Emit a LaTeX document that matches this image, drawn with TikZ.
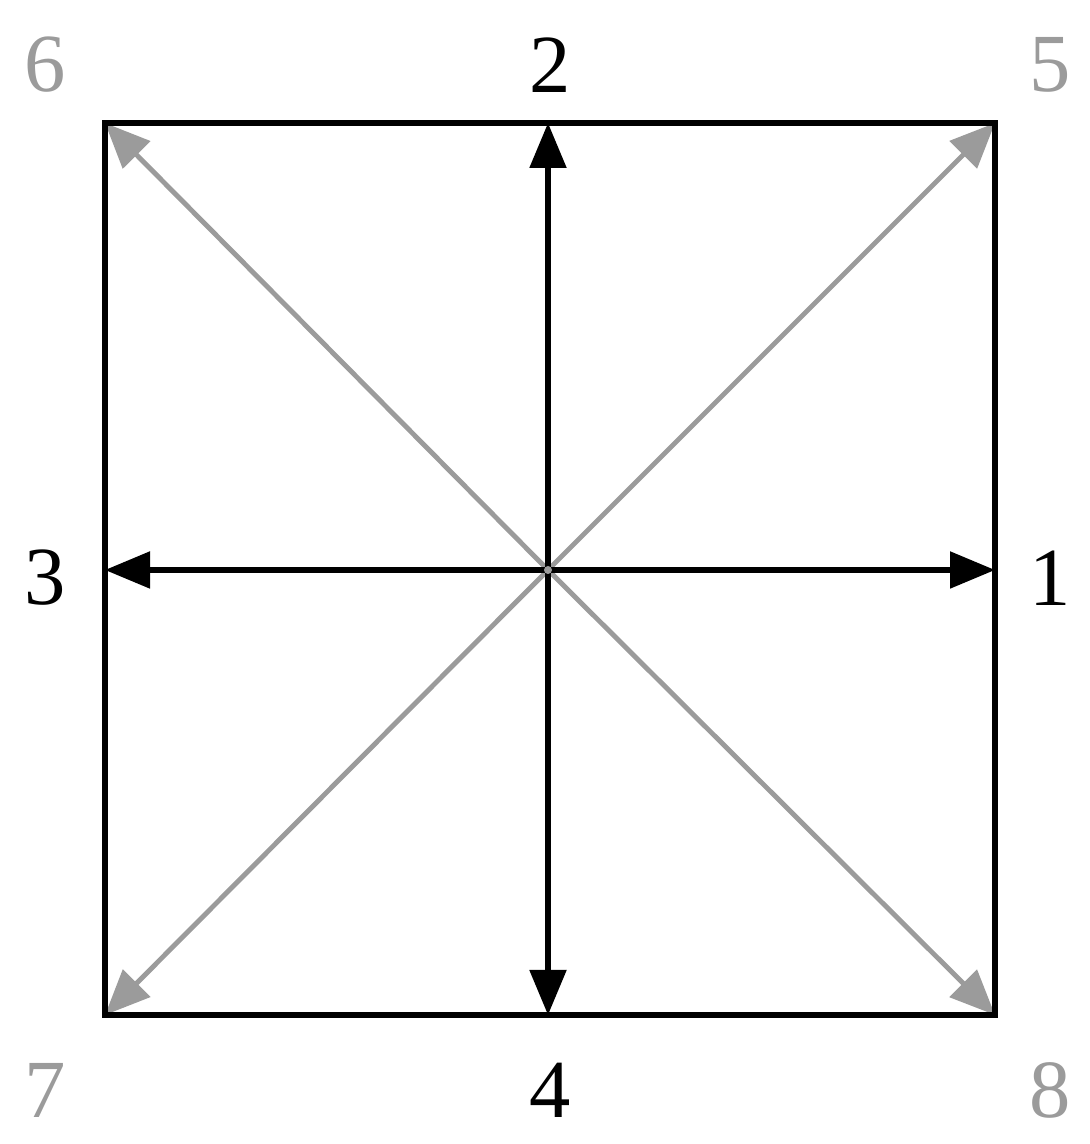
\documentclass[tikz,border=0pt]{standalone}
\usepackage{fontspec}
\setmainfont{Liberation Serif}
\usetikzlibrary{positioning}
\usetikzlibrary{arrows.meta}
\definecolor{dirgray}{RGB}{155,155,155}
\tikzset{
  lbl/.style={font=\fontsize{23.5}{28}\selectfont, inner sep=0pt},
  main/.style={line width=1.5pt, -{Triangle[width=0.36cm,length=0.45cm]}},
  diag/.style={line width=1.4pt, dirgray, -{Triangle[width=0.38cm,length=0.45cm]}}
}
\begin{document}
\begin{tikzpicture}
                  \useasboundingbox (0,0) rectangle (10.89,11.44);
                  \coordinate (c) at (5.48,5.74);
                  \coordinate (nw) at (1.05,10.21);
                  \coordinate (ne) at (9.95,10.21);
                  \coordinate (sw) at (1.05,1.29);
                  \coordinate (se) at (9.95,1.29);
                  \coordinate (n) at (5.48,10.21);
                  \coordinate (s) at (5.48,1.29);
                  \coordinate (w) at (1.05,5.74);
                  \coordinate (e) at (9.95,5.74);
                  % direction labels
                  \node[lbl] at (5.5,10.79) (l2) {2};
                  \node[lbl] at (10.5,5.66) (l1) {1};
                  \node[lbl] at (0.45,5.66) (l3) {3};
                  \node[lbl] at (5.5,0.54) (l4) {4};
                  \node[lbl, dirgray] at (10.5,10.79) (l5) {5};
                  \node[lbl, dirgray] at (0.45,10.79) (l6) {6};
                  \node[lbl, dirgray] at (0.45,0.54) (l7) {7};
                  \node[lbl, dirgray] at (10.5,0.54) (l8) {8};
                  \draw[diag] (c) -- (ne);
                  \draw[diag] (c) -- (nw);
                  \draw[diag] (c) -- (sw);
                  \draw[diag] (c) -- (se);
                  \draw[main] (c) -- (e);
                  \draw[main] (c) -- (n);
                  \draw[main] (c) -- (w);
                  \draw[main] (c) -- (s);
                  \fill[dirgray] (c) circle (0.04);
                  \draw[line width=1.6pt] (sw) rectangle (ne);
              \end{tikzpicture}
\end{document}
